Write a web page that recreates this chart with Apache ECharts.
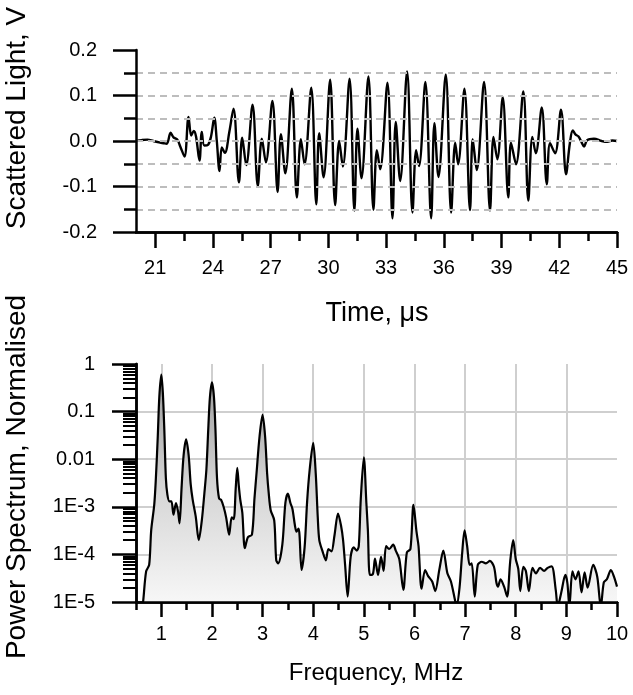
<!DOCTYPE html>
<html><head><meta charset="utf-8">
<script src="https://cdn.jsdelivr.net/npm/echarts@6/dist/echarts.min.js"></script>
<style>html,body{margin:0;padding:0;background:#fff}#c{width:633px;height:695px}</style>
</head><body><div id="c"></div>
<script>
// ---- Top panel: scattered light burst (time in µs, signal in V) ----
const timeSignal = [
  [20.0,0.000],[20.3,0.002],[20.6,0.003],[20.9,0.000],[21.2,-0.003],[21.45,-0.005],[21.6,-0.006],
  [21.8,0.018],[21.95,0.008],[22.15,0.003],[22.3,-0.012],[22.52,-0.034],[22.73,0.053],[22.87,0.012],
  [23.0,0.022],[23.12,0.010],[23.3,-0.043],[23.42,0.020],[23.55,-0.010],[23.75,-0.008],[23.9,0.010],
  [24.07,0.051],[24.2,0.000],[24.34,-0.066],[24.46,-0.014],[24.62,-0.026],[24.85,0.020],
  [25.07,0.071],[25.35,-0.091],[25.52,0.007],[25.73,-0.053],
  [26.06,0.080],[26.33,-0.099],[26.54,0.005],[26.75,-0.047],
  [27.09,0.088],[27.36,-0.112],[27.53,0.015],[27.76,-0.071],
  [28.10,0.115],[28.36,-0.124],[28.57,0.004],[28.76,-0.051],
  [29.11,0.117],[29.37,-0.139],[29.52,0.017],[29.75,-0.080],
  [30.09,0.135],[30.35,-0.141],[30.56,0.000],[30.75,-0.056],
  [31.10,0.137],[31.35,-0.153],[31.51,0.027],[31.72,-0.082],
  [32.08,0.142],[32.34,-0.151],[32.52,-0.020],[32.69,-0.062],
  [33.07,0.128],[33.33,-0.170],[33.50,0.042],[33.73,-0.088],
  [34.09,0.153],[34.37,-0.157],[34.56,-0.020],[34.71,-0.055],
  [35.04,0.130],[35.34,-0.170],[35.51,0.039],[35.72,-0.079],
  [36.10,0.146],[36.38,-0.157],[36.59,-0.004],[36.74,-0.051],
  [37.07,0.115],[37.36,-0.152],[37.50,0.004],[37.71,-0.064],
  [38.09,0.130],[38.40,-0.153],[38.58,0.009],[38.78,-0.040],
  [39.06,0.096],[39.35,-0.124],[39.49,-0.004],[39.75,-0.051],
  [40.13,0.109],[40.39,-0.131],[40.60,0.009],[40.78,-0.027],
  [41.09,0.074],[41.35,-0.095],[41.52,-0.005],[41.78,-0.027],
  [42.09,0.069],[42.35,-0.073],[42.55,-0.005],[42.70,0.023],[42.85,0.014],[43.0,0.010],
  [43.15,-0.002],[43.29,-0.012],[43.45,0.002],[43.8,0.005],[44.2,0.000],[44.5,-0.002],[44.75,0.001],[45.0,0.000]
];
const timeTickLabels = [21,24,27,30,33,36,39,42,45];
const timeMinorTicks = [22.5,25.5,28.5,31.5,34.5,37.5,40.5,43.5];

// ---- Bottom panel: normalised power spectrum (MHz) ----
const freqSpectrum = [
  [0.60,5e-6],[0.64,1.0e-5],[0.70,4.4e-5],[0.76,6.0e-5],[0.80,3.2e-4],[0.86,1.1e-3],[0.89,3.5e-3],
  [0.93,0.03],[0.96,0.2],[1.0,0.6],[1.03,0.25],[1.06,0.04],[1.09,4e-3],[1.12,1.8e-3],[1.16,1.3e-3],
  [1.20,1.3e-3],[1.24,6.8e-4],[1.29,1.2e-3],[1.33,8e-4],[1.36,4.5e-4],[1.40,2.5e-3],[1.44,0.012],
  [1.49,0.026],[1.54,0.012],[1.58,3e-3],[1.62,1.4e-3],[1.68,6.2e-4],[1.74,2e-4],[1.80,5.2e-4],
  [1.85,1.9e-3],[1.89,6e-3],[1.93,0.05],[1.96,0.2],[2.0,0.41],[2.04,0.2],[2.07,0.04],[2.10,4e-3],
  [2.14,1.5e-3],[2.18,1.4e-3],[2.23,1e-3],[2.28,6e-4],[2.34,2.6e-4],[2.39,6e-4],[2.43,5.5e-4],
  [2.47,2.5e-3],[2.50,6.6e-3],[2.53,2.8e-3],[2.56,1.4e-3],[2.60,7.5e-4],[2.65,1.35e-4],[2.71,2.3e-4],
  [2.79,2.6e-4],[2.84,1.5e-3],[2.88,5e-3],[2.94,0.03],[3.0,0.085],[3.05,0.03],[3.09,5e-3],[3.12,2e-3],
  [3.16,8.5e-4],[3.23,5.2e-4],[3.27,7.5e-5],[3.31,6.5e-5],[3.39,1.6e-4],[3.45,1.2e-3],[3.50,1.9e-3],
  [3.55,1.2e-3],[3.59,9e-4],[3.64,4e-4],[3.67,3e-4],[3.71,3.5e-4],[3.73,2.5e-4],[3.77,4.7e-5],
  [3.83,1.4e-4],[3.88,1.3e-3],[3.93,6e-3],[4.0,0.022],[4.05,5e-3],[4.09,6e-4],[4.12,2e-4],[4.18,1.2e-4],
  [4.25,7.5e-5],[4.30,1.3e-4],[4.36,1.15e-4],[4.42,2.5e-4],[4.49,7.2e-4],[4.55,4e-4],[4.59,2e-4],
  [4.63,6e-5],[4.68,1.3e-5],[4.74,9e-5],[4.80,1.4e-4],[4.86,1.2e-4],[4.90,1.5e-4],[4.94,1.5e-3],
  [5.0,0.011],[5.05,1.2e-3],[5.08,3.2e-4],[5.12,3.7e-5],[5.18,3.9e-5],[5.22,8.2e-5],[5.28,3.7e-5],
  [5.34,8.9e-5],[5.39,4.5e-5],[5.44,1.5e-4],[5.50,1.3e-4],[5.58,1.6e-4],[5.63,1.2e-4],[5.70,8e-5],
  [5.78,1.8e-5],[5.85,1.1e-4],[5.92,1.3e-4],[5.98,1.1e-3],[6.04,3e-4],[6.08,1.5e-4],[6.14,1.9e-5],
  [6.21,4.7e-5],[6.27,3.5e-5],[6.35,2.7e-5],[6.41,1.7e-5],[6.49,4.7e-5],[6.57,1.2e-4],[6.65,4e-5],
  [6.72,2.7e-5],[6.80,1.1e-5],[6.83,8e-6],[6.89,2e-5],[6.94,1e-4],[6.99,3.2e-4],[7.04,1.5e-4],
  [7.09,6e-5],[7.13,6.5e-5],[7.19,1.3e-5],[7.25,6e-5],[7.33,7e-5],[7.41,6.5e-5],[7.49,7.3e-5],
  [7.57,5.5e-5],[7.62,2.5e-5],[7.65,2.1e-5],[7.70,3e-5],[7.77,2.1e-5],[7.83,1.3e-5],[7.89,7e-5],
  [7.95,2e-4],[8.0,8e-5],[8.05,5e-5],[8.09,1.7e-5],[8.15,5.5e-5],[8.20,4.5e-5],[8.26,1.7e-5],
  [8.33,5.2e-5],[8.40,4e-5],[8.48,5.2e-5],[8.56,4.5e-5],[8.63,5.2e-5],[8.71,5.6e-5],[8.79,1.8e-5],
  [8.83,8e-6],[8.90,1.6e-5],[8.98,3.7e-5],[9.02,2.5e-5],[9.06,8e-6],[9.12,4.4e-5],[9.18,3e-5],
  [9.24,4.4e-5],[9.30,1.6e-5],[9.36,4.2e-5],[9.42,2e-5],[9.53,6e-5],[9.61,3.4e-5],[9.68,8e-6],
  [9.74,2.6e-5],[9.80,3e-5],[9.88,4.7e-5],[9.94,3.4e-5],[10.0,2.1e-5]
];
const freqTickLabels = [1,2,3,4,5,6,7,8,9,10];
const freqMinorTicks = [0.5,1.5,2.5,3.5,4.5,5.5,6.5,7.5,8.5,9.5];
const powerTickLabels = ['1E-5','1E-4','1E-3','0.01','0.1','1'];
const powerDecades = [-5,-4,-3,-2,-1];
const powerMinorTicks = [];
powerDecades.forEach(function (n) { for (let k = 2; k <= 9; k++) powerMinorTicks.push(n + Math.log10(k)); });

const FONT = 'Liberation Sans, Arial, sans-serif';
const BLACK = '#000';
const axisLineStyle = { color: BLACK, width: 2.5 };
const labelStyle = { color: BLACK, fontFamily: FONT, fontSize: 20 };

const chart = echarts.init(document.getElementById('c'), null, { renderer: 'canvas' });
chart.setOption({
  backgroundColor: '#fff',
  animation: false,
  grid: [
    { left: 136, right: 16, top: 50, height: 182 },
    { left: 136, right: 16, top: 364, height: 238 }
  ],
  xAxis: [
    { gridIndex: 0, type: 'value', min: 20, max: 45, position: 'bottom',
      axisLine: { show: true, lineStyle: axisLineStyle, onZero: false },
      axisTick: { show: true, customValues: timeTickLabels, length: 16, lineStyle: { color: BLACK, width: 2.5 } },
      axisLabel: { customValues: timeTickLabels, margin: 26, ...labelStyle },
      splitLine: { show: false } },
    { gridIndex: 0, type: 'value', min: 20, max: 45, position: 'bottom', offset: 0, z: 10,
      axisLine: { show: true, lineStyle: axisLineStyle, onZero: false },
      axisTick: { show: true, customValues: timeMinorTicks, length: 9, lineStyle: { color: BLACK, width: 2.5 } },
      axisLabel: { show: false }, splitLine: { show: false } },
    { gridIndex: 1, type: 'value', min: 0.5, max: 10, position: 'bottom',
      axisLine: { show: true, lineStyle: axisLineStyle, onZero: false },
      axisTick: { show: true, customValues: freqTickLabels, length: 15, lineStyle: { color: BLACK, width: 2.5 } },
      axisLabel: { customValues: freqTickLabels, margin: 22, ...labelStyle },
      splitLine: { show: true, showMaxLine: false, lineStyle: { color: '#cfcfcf', width: 2 } } },
    { gridIndex: 1, type: 'value', min: 0.5, max: 10, position: 'bottom', offset: 0, z: 10,
      axisLine: { show: true, lineStyle: axisLineStyle, onZero: false },
      axisTick: { show: true, customValues: freqMinorTicks, length: 8, lineStyle: { color: BLACK, width: 2.5 } },
      axisLabel: { show: false }, splitLine: { show: false } }
  ],
  yAxis: [
    { gridIndex: 0, type: 'value', min: -0.2, max: 0.2, interval: 0.1, position: 'left', z: 10,
      axisLine: { show: true, lineStyle: axisLineStyle, onZero: false },
      axisTick: { show: true, length: 23, lineStyle: { color: BLACK, width: 2.5 } },
      minorTick: { show: true, splitNumber: 2, length: 12, lineStyle: { color: BLACK, width: 2.5 } },
      axisLabel: { margin: 39, formatter: function (v) { return v.toFixed(1); }, ...labelStyle },
      splitLine: { show: true, showMinLine: false, showMaxLine: false, lineStyle: { color: '#bdbdbd', width: 2, type: [7, 5] } },
      minorSplitLine: { show: true, lineStyle: { color: '#bdbdbd', width: 2, type: [7, 5] } } },
    { gridIndex: 1, type: 'log', logBase: 10, min: 1e-5, max: 1, position: 'left',
      axisLine: { show: true, lineStyle: axisLineStyle, onZero: false },
      axisTick: { show: true, length: 24, lineStyle: { color: BLACK, width: 2.5 } },
      axisLabel: { margin: 41, ...labelStyle,
        formatter: function (v) { return powerTickLabels[Math.round(Math.log10(v)) + 5]; } },
      splitLine: { show: true, showMinLine: false, showMaxLine: false, lineStyle: { color: '#cfcfcf', width: 2 } } },
    { gridIndex: 1, type: 'value', min: -5, max: 0, position: 'left', offset: 0, z: 10,
      axisLine: { show: true, lineStyle: axisLineStyle, onZero: false },
      axisTick: { show: true, customValues: powerMinorTicks, length: 13, lineStyle: { color: BLACK, width: 2 } },
      axisLabel: { show: false }, splitLine: { show: false } }
  ],
  graphic: [
    { type: 'text', x: 17, y: 118, rotation: Math.PI / 2,
      style: { text: 'Scattered Light, V', font: '28px ' + FONT, fill: BLACK, textAlign: 'center', textVerticalAlign: 'middle' } },
    { type: 'text', x: 17, y: 477, rotation: Math.PI / 2,
      style: { text: 'Power Spectrum, Normalised', font: '28px ' + FONT, fill: BLACK, textAlign: 'center', textVerticalAlign: 'middle' } },
    { type: 'text', x: 377, y: 314,
      style: { text: 'Time, μs', font: '27px ' + FONT, fill: BLACK, textAlign: 'center', textVerticalAlign: 'middle' } },
    { type: 'text', x: 376, y: 673,
      style: { text: 'Frequency, MHz', font: '24px ' + FONT, fill: BLACK, textAlign: 'center', textVerticalAlign: 'middle' } }
  ],
  series: [
    { type: 'line', xAxisIndex: 0, yAxisIndex: 0, data: timeSignal, smooth: 0.35, symbol: 'none',
      lineStyle: { color: BLACK, width: 2.4 }, z: 5 },
    { type: 'line', xAxisIndex: 2, yAxisIndex: 1, data: freqSpectrum, smooth: 0.3, symbol: 'none',
      lineStyle: { color: BLACK, width: 2.2 }, z: 5,
      areaStyle: { origin: 'start', opacity: 1,
        color: { type: 'linear', x: 0, y: 0, x2: 0, y2: 1,
          colorStops: [ { offset: 0, color: '#9a9a9a' }, { offset: 0.45, color: '#d4d4d4' }, { offset: 1, color: '#fbfbfb' } ] } } }
  ]
});
</script></body></html>
